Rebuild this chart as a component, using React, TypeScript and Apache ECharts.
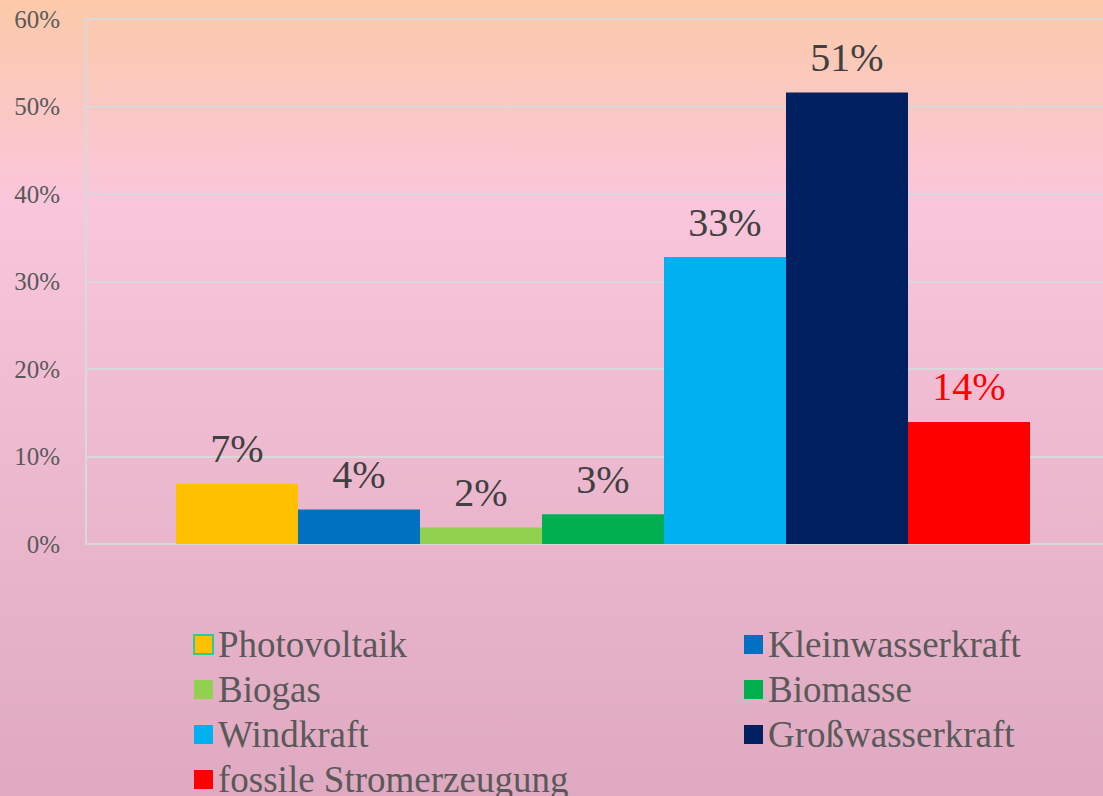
import React, { useEffect, useRef } from "react";
import * as echarts from "echarts";

const seriesNames = [
  "Photovoltaik",
  "Kleinwasserkraft",
  "Biogas",
  "Biomasse",
  "Windkraft",
  "Großwasserkraft",
  "fossile Stromerzeugung",
];
const seriesValues = [6.9, 3.95, 1.9, 3.4, 32.8, 51.6, 13.95];
const shownLabels = ["7%", "4%", "2%", "3%", "33%", "51%", "14%"];
const seriesColors = ["#FFC000", "#0070C0", "#92D050", "#00B050", "#00B0F0", "#002060", "#FF0000"];
const labelColors = ["#404040", "#404040", "#404040", "#404040", "#404040", "#404040", "#FF0000"];
const category = [""];
const leftLegend = ["Photovoltaik", "Biogas", "Windkraft", "fossile Stromerzeugung"];
const rightLegend = ["Kleinwasserkraft", "Biomasse", "Großwasserkraft"];

const FONT = '"Liberation Serif", "Times New Roman", serif';

export default function App() {
  const ref = useRef<HTMLDivElement>(null);
  useEffect(() => {
    const chart = echarts.init(ref.current!, undefined, { renderer: "svg" });
    const legendText = {
      color: "#595959",
      fontFamily: FONT,
      fontSize: 37,
      lineHeight: 36,
    };
    chart.setOption({
      animation: false,
      backgroundColor: {
        type: "linear",
        x: 0,
        y: 0,
        x2: 0,
        y2: 1,
        colorStops: [
          { offset: 0, color: "#FCCAA9" },
          { offset: 0.25, color: "#FAC6DB" },
          { offset: 0.5, color: "#F0BCD2" },
          { offset: 1, color: "#DFAAC1" },
        ],
      },
      grid: { left: 86, top: 19, width: 1034, height: 525, containLabel: false },
      legend: [
        {
          orient: "vertical",
          left: 188,
          top: 621,
          height: 300,
          itemWidth: 19,
          itemHeight: 19,
          itemGap: 8,
          icon: "rect",
          selectedMode: false,
          textStyle: legendText,
          data: leftLegend.map((n) =>
            n === "Photovoltaik"
              ? { name: n, itemStyle: { borderColor: "#2FC9A0", borderWidth: 2 } }
              : { name: n }
          ),
        },
        {
          orient: "vertical",
          left: 739,
          top: 621,
          height: 300,
          itemWidth: 19,
          itemHeight: 19,
          itemGap: 8,
          icon: "rect",
          selectedMode: false,
          textStyle: legendText,
          data: rightLegend,
        },
      ],
      xAxis: {
        type: "category",
        data: category,
        axisLine: { show: true, lineStyle: { color: "#D9D9D9", width: 2 } },
        axisTick: { show: false },
        axisLabel: { show: false },
      },
      yAxis: {
        type: "value",
        min: 0,
        max: 60,
        interval: 10,
        axisLine: { show: true, lineStyle: { color: "#D9D9D9", width: 2 } },
        axisTick: { show: false },
        splitLine: { show: true, lineStyle: { color: "#D9D9D9", width: 2 } },
        axisLabel: {
          formatter: "{value}%",
          color: "#595959",
          fontFamily: FONT,
          fontSize: 25,
          margin: 26,
        },
      },
      series: seriesNames.map((name, i) => ({
        name,
        type: "bar",
        barWidth: 122,
        barGap: "0%",
        itemStyle: { color: seriesColors[i] },
        data: [seriesValues[i]],
        label: {
          show: true,
          position: "top",
          distance: 15,
          formatter: () => shownLabels[i],
          color: labelColors[i],
          fontFamily: FONT,
          fontSize: 40,
        },
      })),
    });
    return () => chart.dispose();
  }, []);
  return (
    <div
      style={{
        position: "fixed",
        left: 0,
        top: 0,
        width: 1103,
        height: 796,
        overflow: "hidden",
      }}
    >
      <div ref={ref} style={{ width: 1120, height: 796 }} />
    </div>
  );
}
